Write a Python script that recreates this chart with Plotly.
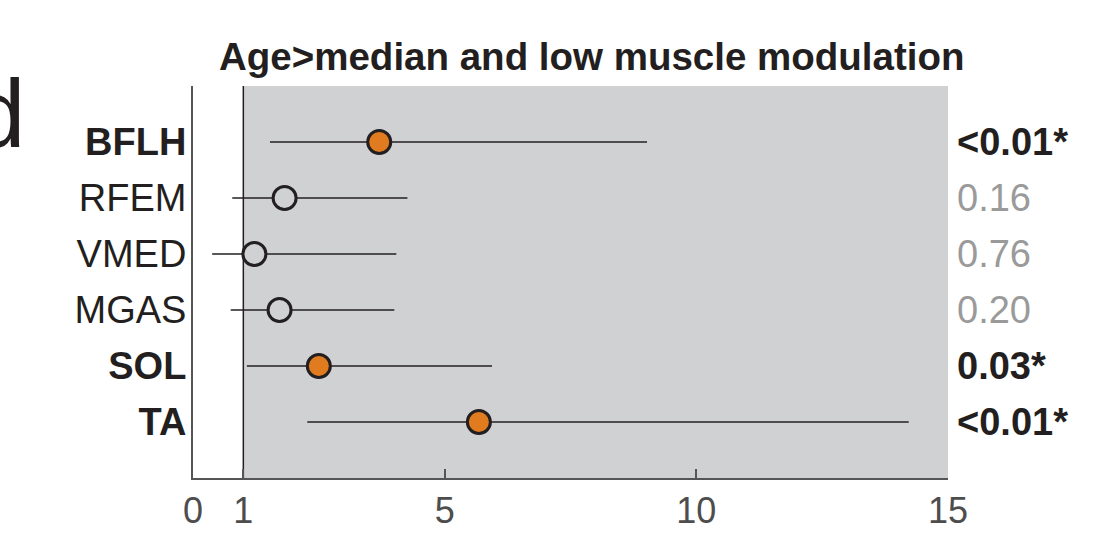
import plotly.graph_objects as go

# Odds ratios with 95% confidence intervals per muscle
muscles = ["BFLH", "RFEM", "VMED", "MGAS", "SOL", "TA"]
odds_ratio = [3.70, 1.82, 1.22, 1.72, 2.50, 5.68]
ci_low = [1.53, 0.78, 0.38, 0.75, 1.07, 2.27]
ci_high = [9.02, 4.26, 4.04, 4.00, 5.94, 14.22]
p_labels = ["<0.01*", "0.16", "0.76", "0.20", "0.03*", "<0.01*"]
significant = [True, False, False, False, True, True]

x_ticks = [0, 1, 5, 10, 15]
title_text = "Age>median and low muscle modulation"
panel_letter = "d"

FONT = "Liberation Sans, Arial, sans-serif"
DARK = "#231f20"
SHADE = "#d0d1d3"
ORANGE = "#e07b1f"
MUTED = "#9a9a9a"

# rows counted from the bottom: TA = 1 ... BFLH = 6
y_pos = [len(muscles) - i for i in range(len(muscles))]

fig = go.Figure()

# shaded region to the right of OR = 1
fig.add_shape(type="rect", xref="x", yref="y", x0=1, x1=15, y0=0, y1=7,
              fillcolor=SHADE, line_width=0, layer="below")
# reference line at OR = 1
fig.add_shape(type="line", xref="x", yref="y", x0=1, x1=1, y0=0, y1=7,
              line=dict(color=DARK, width=1.5), layer="below")

err_plus = [h - o for h, o in zip(ci_high, odds_ratio)]
err_minus = [o - l for o, l in zip(odds_ratio, ci_low)]
fills = [ORANGE if s else SHADE for s in significant]

fig.add_trace(go.Scatter(
    x=odds_ratio, y=y_pos, mode="markers",
    error_x=dict(type="data", symmetric=False, array=err_plus,
                 arrayminus=err_minus, color=DARK, thickness=1.5, width=0),
    marker=dict(size=23, color=fills, line=dict(color=DARK, width=3)),
    showlegend=False, hoverinfo="skip",
))

tick_text = [f"<b>{m}</b>" if s else m for m, s in zip(muscles, significant)]

# p-values on the right-hand side
for yv, lab, s in zip(y_pos, p_labels, significant):
    fig.add_annotation(
        x=1, xref="paper", y=yv, yref="y", xanchor="left", yanchor="middle",
        xshift=7, showarrow=False,
        text=f"<b>{lab}</b>" if s else lab,
        font=dict(family=FONT, size=38, color=DARK if s else MUTED),
    )

fig.add_annotation(
    x=0.528, xref="paper", y=1, yref="paper", xanchor="center", yanchor="bottom",
    yshift=6, showarrow=False, text=f"<b>{title_text}</b>",
    font=dict(family=FONT, size=38.5, color=DARK),
)

fig.add_annotation(
    x=-0.22, xref="paper", y=0.93, yref="paper", xanchor="right", yanchor="middle",
    showarrow=False, text=panel_letter,
    font=dict(family=FONT, size=96, color=DARK),
)

fig.update_xaxes(
    range=[0, 15], tickvals=x_ticks, ticktext=[str(t) for t in x_ticks],
    ticks="inside", ticklen=9, tickwidth=1.5, tickcolor="#555555",
    showline=True, linecolor="#555555", linewidth=2,
    showgrid=False, zeroline=False, automargin=False,
    tickfont=dict(family=FONT, size=36, color="#4d4d4d"),
)
fig.update_yaxes(
    range=[0, 7], tickvals=y_pos, ticktext=tick_text, ticks="",
    showline=True, linecolor="#555555", linewidth=2,
    showgrid=False, zeroline=False, automargin=False,
    ticklabelstandoff=-3,
    tickfont=dict(family=FONT, size=38, color=DARK),
)

fig.update_layout(
    width=1100, height=534,
    margin=dict(l=193, r=152, t=86, b=56),
    plot_bgcolor="white", paper_bgcolor="white",
)

fig.write_html("out.html")
